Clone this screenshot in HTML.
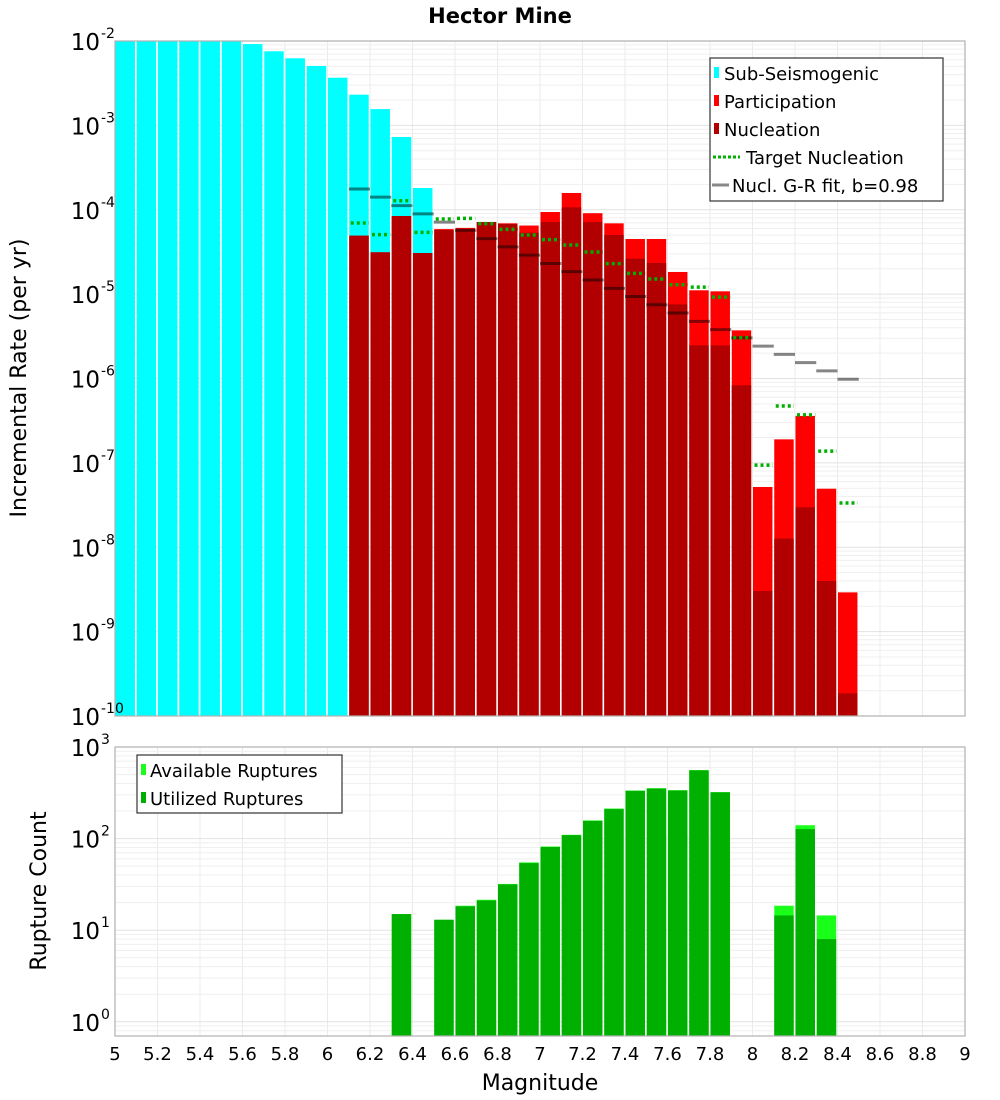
<!DOCTYPE html>
<html><head><meta charset="utf-8">
<style>
body{margin:0;background:#fff;}
svg{display:block;font-family:"DejaVu Sans","Liberation Sans",sans-serif;}
</style></head>
<body>
<svg id="chart" width="1000" height="1100" viewBox="0 0 1000 1100" xmlns="http://www.w3.org/2000/svg">
<text x="500" y="23" text-anchor="middle" font-size="21" font-weight="bold">Hector Mine</text>
<g id="top-grid"></g>
<g id="bot-grid"></g>
<g id="top-marks"></g>
<g id="bot-marks"></g>
<rect x="115" y="41" width="850" height="675" fill="none" stroke="#b0b0b0" stroke-width="1.2"/>
<rect x="115" y="747" width="850" height="289" fill="none" stroke="#b0b0b0" stroke-width="1.2"/>
<g id="top-yticks"></g>
<g id="bot-yticks"></g>
<g id="xticks"></g>
<text transform="translate(26,378) rotate(-90)" text-anchor="middle" font-size="22">Incremental Rate (per yr)</text>
<text transform="translate(46,891) rotate(-90)" text-anchor="middle" font-size="22">Rupture Count</text>
<text x="540" y="1090" text-anchor="middle" font-size="22">Magnitude</text>
<g>
<rect x="710" y="58" width="233" height="143" fill="#fff" stroke="#333" stroke-width="1.2"/>
<rect x="714" y="67" width="5" height="11" fill="#00ffff"/>
<text x="724" y="80" font-size="18">Sub-Seismogenic</text>
<rect x="714" y="95" width="5" height="11" fill="#ff0000"/>
<text x="724" y="108" font-size="18">Participation</text>
<rect x="714" y="123" width="5" height="11" fill="#b20000"/>
<text x="724" y="136" font-size="18">Nucleation</text>
<line x1="713" y1="157" x2="740" y2="157" stroke="#00b000" stroke-width="3" stroke-dasharray="3,2"/>
<text x="746" y="164" font-size="18">Target Nucleation</text>
<line x1="712" y1="185" x2="729" y2="185" stroke="#888" stroke-width="3"/>
<text x="732" y="192" font-size="18">Nucl. G-R fit, b=0.98</text>
</g>
<g>
<rect x="137" y="755" width="205" height="58" fill="#fff" stroke="#333" stroke-width="1.2"/>
<rect x="141" y="764" width="5" height="11" fill="#1aff1a"/>
<text x="150" y="777" font-size="18">Available Ruptures</text>
<rect x="141" y="792" width="5" height="11" fill="#00b000"/>
<text x="150" y="805" font-size="18">Utilized Ruptures</text>
</g>
</svg>
<script>
// ---- data ----
const subMags = [5.0,5.1,5.2,5.3,5.4,5.5,5.6,5.7,5.8,5.9,6.0,6.1,6.2,6.3,6.4];
const subRates = [0.02,0.02,0.02,0.02,0.02,0.02,9.2e-3,7.55e-3,6.24e-3,5.06e-3,3.67e-3,2.31e-3,1.56e-3,7.28e-4,1.81e-4];
const supMags = [6.1,6.2,6.3,6.4,6.5,6.6,6.7,6.8,6.9,7.0,7.1,7.2,7.3,7.4,7.5,7.6,7.7,7.8,7.9,8.0,8.1,8.2,8.3,8.4];
const partRates = [4.93e-5,3.13e-5,8.43e-5,3.07e-5,5.9e-5,6.1e-5,7.16e-5,6.9e-5,6.5e-5,9.4e-5,1.58e-4,9.1e-5,6.9e-5,4.5e-5,4.5e-5,1.83e-5,1.11e-5,1.08e-5,3.72e-6,5.18e-8,1.9e-7,3.6e-7,4.94e-8,2.92e-9];
const nuclRates = [4.93e-5,3.13e-5,8.43e-5,3.07e-5,5.75e-5,5.97e-5,7.16e-5,6.8e-5,5.35e-5,7.16e-5,1.07e-4,7.16e-5,5.02e-5,2.63e-5,2.34e-5,7.57e-6,2.47e-6,2.47e-6,8.3e-7,3.03e-9,1.27e-8,2.97e-8,3.98e-9,1.86e-10];
const targetRates = [6.97e-5,5.07e-5,1.28e-4,5.4e-5,7.77e-5,7.9e-5,6.84e-5,5.86e-5,5.02e-5,4.42e-5,3.82e-5,3.16e-5,2.3e-5,1.76e-5,1.51e-5,1.29e-5,1.21e-5,9.2e-6,3.05e-6,9.4e-8,4.72e-7,3.7e-7,1.38e-7,3.34e-8];
const grRates = [1.76e-4,1.41e-4,1.12e-4,8.95e-5,7.14e-5,5.70e-5,4.55e-5,3.63e-5,2.90e-5,2.31e-5,1.85e-5,1.47e-5,1.17e-5,9.38e-6,7.48e-6,5.97e-6,4.76e-6,3.80e-6,3.03e-6,2.42e-6,1.93e-6,1.54e-6,1.23e-6,9.8e-7];
const cntMags = [6.3,6.5,6.6,6.7,6.8,6.9,7.0,7.1,7.2,7.3,7.4,7.5,7.6,7.7,7.8,8.1,8.2,8.3];
const availCounts = [15,13,18.5,21.5,32,55,82,110,158,213,335,355,338,560,322,18.5,140,14.5];
const usedCounts = [15,13,18.2,21.1,31.6,54,81,109,156,210,332,352,335,556,320,14.5,127,8.0];
const rateExps = [-2,-3,-4,-5,-6,-7,-8,-9,-10];
const cntExps = [3,2,1,0];
const xTickLabels = ["5","5.2","5.4","5.6","5.8","6","6.2","6.4","6.6","6.8","7","7.2","7.4","7.6","7.8","8","8.2","8.4","8.6","8.8","9"];

// ---- axes ----
const NS="http://www.w3.org/2000/svg";
const X0=115,X1=965;
const xs = m => X0 + (m-5)/4*(X1-X0);
const T0=41,T1=716;
const yTop = v => { let y = T0 + (-2 - Math.log10(v))/8*(T1-T0); return Math.min(Math.max(y,T0),T1); };
const B0=747,B1=1036, BLO=Math.log10(0.7);
const yBot = v => { let y = B0 + (3 - Math.log10(v))/(3-BLO)*(B1-B0); return Math.min(Math.max(y,B0),B1); };
const bw = xs(5.1)-xs(5.0);

function mk(tag, attrs, parent){ const e=document.createElementNS(NS,tag); for(const k in attrs) e.setAttribute(k,attrs[k]); parent.appendChild(e); return e; }

// grids
const tg=document.getElementById('top-grid'), bg=document.getElementById('bot-grid');
for(let i=0;i<=20;i++){ const x=xs(5+i*0.2);
  mk('line',{x1:x,x2:x,y1:T0,y2:T1,stroke:'#ebebeb','stroke-width':1},tg);
  mk('line',{x1:x,x2:x,y1:B0,y2:B1,stroke:'#ebebeb','stroke-width':1},bg);
}
for(let e=-10;e<-2;e++){ for(let k=1;k<10;k++){ const y=yTop(k*Math.pow(10,e)); mk('line',{x1:X0,x2:X1,y1:y,y2:y,stroke:k===1?'#e2e2e2':'#efefef','stroke-width':1},tg);} }
for(let e=-1;e<3;e++){ for(let k=1;k<10;k++){ const v=k*Math.pow(10,e); if(v<0.7) continue; const y=yBot(v); mk('line',{x1:X0,x2:X1,y1:y,y2:y,stroke:k===1?'#e2e2e2':'#efefef','stroke-width':1},bg);} }

// top marks
const tm=document.getElementById('top-marks');
subMags.forEach((m,i)=>{ const y=yTop(subRates[i]);
  const r=mk('rect',{x:xs(m)+0.5,y:y,width:bw-1.8,height:T1-y,fill:'#00ffff'},tm);
  
  
});
supMags.forEach((m,i)=>{ const y=yTop(partRates[i]);
  const r=mk('rect',{x:xs(m)+0.5,y:y,width:bw-1.8,height:T1-y,fill:'#ff0000'},tm);
  
  
});
supMags.forEach((m,i)=>{ const y=yTop(nuclRates[i]);
  const r=mk('rect',{x:xs(m)+0.5,y:y,width:bw-1.8,height:T1-y,fill:'#b20000'},tm);
  
  
});
supMags.forEach((m,i)=>{ const y=yTop(grRates[i]);
  const l=mk('line',{x1:xs(m),x2:xs(m)+bw,y1:y,y2:y,stroke:'rgba(0,0,0,0.48)','stroke-width':3},tm);
  
  
});
supMags.forEach((m,i)=>{ const y=yTop(targetRates[i]);
  const l=mk('line',{x1:xs(m)+2,x2:xs(m)+bw-1,y1:y,y2:y,stroke:'#00b000','stroke-width':3.5,'stroke-dasharray':'3,3'},tm);
  
  
});

// bottom marks
const bm=document.getElementById('bot-marks');
cntMags.forEach((m,i)=>{ const y=yBot(availCounts[i]);
  const r=mk('rect',{x:xs(m)+0.5,y:y,width:bw-1.8,height:B1-y,fill:'#1aff1a'},bm);
  
  
});
cntMags.forEach((m,i)=>{ const y=yBot(usedCounts[i]);
  const r=mk('rect',{x:xs(m)+0.5,y:y,width:bw-1.8,height:B1-y,fill:'#00b000'},bm);
  
  
});

// y tick labels
function expLabel(parent, y, e){
  const t=mk('text',{x:100,y:y+9,'text-anchor':'end','font-size':23},parent);
  
  
  t.textContent='10';
  const s=mk('text',{x:101,y:y-3,'font-size':14},parent);
  
  
  s.textContent=String(e);
}
const ty=document.getElementById('top-yticks');
rateExps.forEach(e=>expLabel(ty, yTop(Math.pow(10,e)), e));
const by=document.getElementById('bot-yticks');
cntExps.forEach(e=>expLabel(by, yBot(Math.pow(10,e)), e));

// x tick labels
const xt=document.getElementById('xticks');
xTickLabels.forEach(lbl=>{ const t=mk('text',{x:xs(parseFloat(lbl)),y:1060,'text-anchor':'middle','font-size':18},xt);
  
  
  t.textContent=lbl;
});
</script>
</body></html>
